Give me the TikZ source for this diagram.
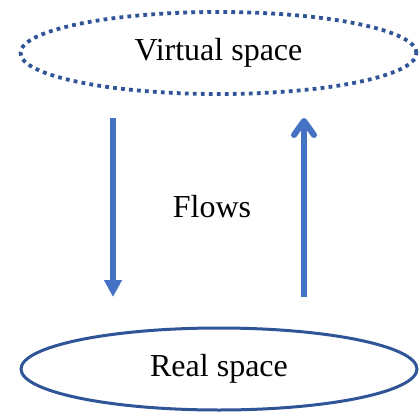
\documentclass[tikz,border=0pt]{standalone}
\usepackage{fontspec}
\setmainfont{Liberation Serif}
\usetikzlibrary{arrows.meta,shapes.geometric}
\definecolor{rimblue}{HTML}{2F5597}
\definecolor{flowblue}{HTML}{4472C4}
\begin{document}
\begin{tikzpicture}[x=1pt,y=-1pt,
  space/.style={draw=rimblue,ellipse,minimum width=396pt,minimum height=82pt,inner sep=0pt},
  flow/.style={draw=flowblue,line width=6pt},
  label/.style={font=\fontsize{32}{36}\selectfont}]
  \useasboundingbox (0,0) rectangle (420,412);
  % the two spaces
  \node[space,line width=3.8pt,dash pattern=on 3.8pt off 4.2pt] (virtual) at (218.5,53) {};
  \node[label] (virtualtext) at (virtual.center) {Virtual space};
  \node[space,line width=3pt] (real) at (219,369) {};
  \node[label] (realtext) at (real.center) {Real space};
  % flows between them
  \coordinate (downS) at (113,118);
  \coordinate (downE) at (113,297);
  \coordinate (upS) at (304,297);
  \coordinate (upE) at (304,118);
  \draw[flow,-{Triangle[width=17pt,length=17pt]}] (downS) -- (downE);
  \draw[flow,-{Straight Barb[width=20pt,length=14pt,round]}] (upS) -- (upE);
  \node[label] (flows) at (212,207) {Flows};
\end{tikzpicture}
\end{document}
